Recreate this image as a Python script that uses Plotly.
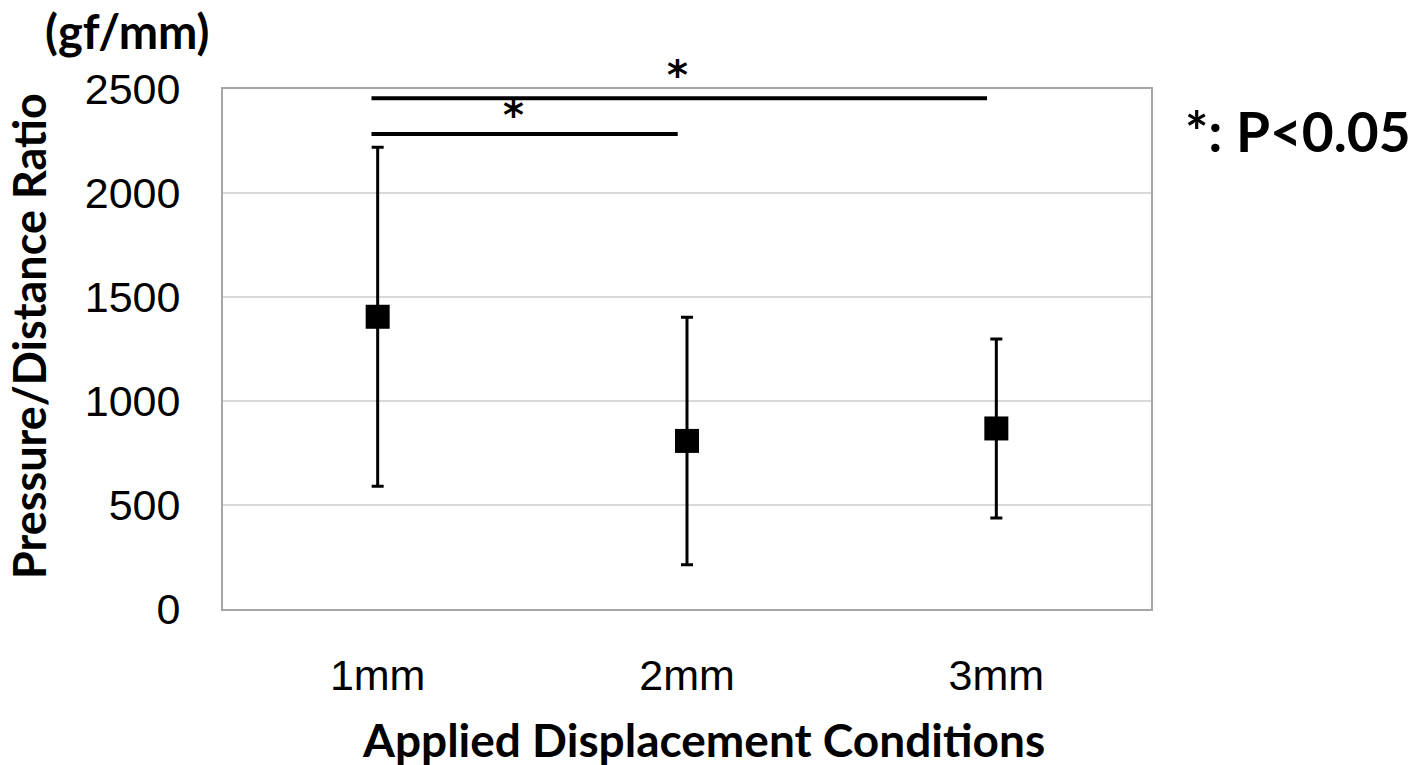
import plotly.graph_objects as go

categories = ["1mm", "2mm", "3mm"]
means = [1405, 808, 868]
sds = [815, 595, 430]
y_ticks = [0, 500, 1000, 1500, 2000, 2500]
sig_from = [0, 0]
sig_to = [2, 1]
sig_levels = [2455, 2284]
sig_labels = ["*", "*"]

fig = go.Figure()
fig.add_trace(go.Scatter(
    x=categories, y=means, mode="markers",
    marker=dict(symbol="square", size=24, color="black"),
    error_y=dict(type="data", array=sds, visible=True, color="black", thickness=3, width=6),
    showlegend=False,
))

star_dx = [-0.03, -0.06]
star_shift = [23, 19]
for a, b, lvl, lab, dx, sh in zip(sig_from, sig_to, sig_levels, sig_labels, star_dx, star_shift):
    fig.add_shape(type="line", xref="x", yref="y", x0=a - 0.02, x1=b - 0.03, y0=lvl, y1=lvl,
                  line=dict(color="black", width=4))
    fig.add_annotation(x=(a + b) / 2 + dx, y=lvl, xref="x", yref="y", text="<b>" + lab + "</b>",
                       showarrow=False, yanchor="middle", yshift=sh,
                       font=dict(family="DejaVu Sans", size=40, color="black"))

# unit label
fig.add_annotation(xref="paper", yref="paper", x=-0.103, y=1.0, yshift=58, xanchor="center", yanchor="middle",
                   text="<b>(gf/mm)</b>", showarrow=False,
                   font=dict(family="Lato", size=47, color="black"))
# significance legend
fig.add_annotation(xref="paper", yref="paper", x=1.0, xshift=32, y=0.92, xanchor="left", yanchor="middle",
                   text="<b>*: P&lt;0.05</b>", showarrow=False,
                   font=dict(family="Lato", size=55, color="black"))
# x axis title
fig.add_annotation(xref="paper", yref="paper", x=0.518, y=0, yshift=-130, xanchor="center", yanchor="middle",
                   text="<b>Applied Displacement Conditions</b>", showarrow=False,
                   font=dict(family="Lato", size=46, color="black"))
# y axis title
fig.add_annotation(xref="paper", yref="paper", x=0, xshift=-194, y=0.525, xanchor="center", yanchor="middle",
                   textangle=-90, text="<b>Pressure/Distance Ratio</b>", showarrow=False,
                   font=dict(family="Lato", size=45, color="black"))

fig.update_layout(
    width=1418, height=765,
    margin=dict(l=215, r=275, t=81, b=164),
    plot_bgcolor="white", paper_bgcolor="white",
    xaxis=dict(
        type="category", range=[-0.5, 2.5],
        showline=True, linecolor="#a6a6a6", linewidth=2, mirror=True,
        showgrid=False, ticks="", ticklabelstandoff=27,
        tickfont=dict(family="Liberation Sans", size=43, color="black"),
    ),
    yaxis=dict(
        range=[0, 2500], tickvals=y_ticks,
        showline=True, linecolor="#a6a6a6", linewidth=2, mirror=True,
        showgrid=True, gridcolor="#d9d9d9", gridwidth=2, zeroline=False,
        ticks="", ticklabelstandoff=32,
        tickfont=dict(family="Liberation Sans", size=43, color="black"),
    ),
)

fig.write_html("out.html")
